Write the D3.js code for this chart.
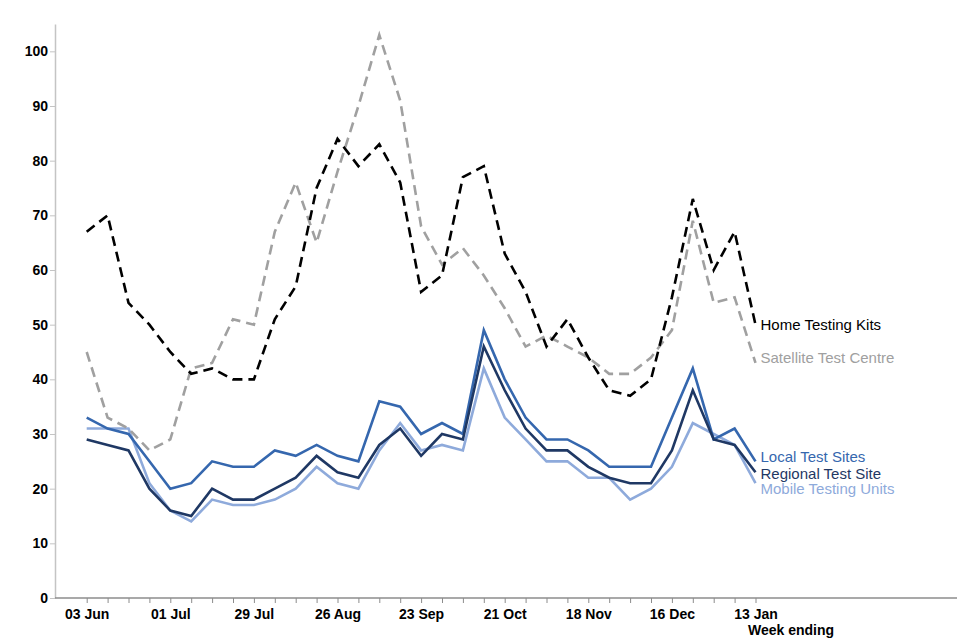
<!DOCTYPE html>
<html>
<head>
<meta charset="utf-8">
<script src="https://cdn.jsdelivr.net/npm/d3@7"></script>
<style>
  body { margin: 0; background: #fff; }
  text { font-family: "Liberation Sans", Arial, sans-serif; }
</style>
</head>
<body>
<script>
// Week ending dates
const weeks = [
  "2021-06-03","2021-06-10","2021-06-17","2021-06-24","2021-07-01","2021-07-08",
  "2021-07-15","2021-07-22","2021-07-29","2021-08-05","2021-08-12","2021-08-19",
  "2021-08-26","2021-09-02","2021-09-09","2021-09-16","2021-09-23","2021-09-30",
  "2021-10-07","2021-10-14","2021-10-21","2021-10-28","2021-11-04","2021-11-11",
  "2021-11-18","2021-11-25","2021-12-02","2021-12-09","2021-12-16","2021-12-23",
  "2021-12-30","2022-01-06","2022-01-13"
];
const tickLabels = ["03 Jun","01 Jul","29 Jul","26 Aug","23 Sep","21 Oct","18 Nov","16 Dec","13 Jan"];
const yTicks = [0,10,20,30,40,50,60,70,80,90,100];

// Series values
const homeKits  = [67,70,54,50,45,41,42,40,40,51,57,75,84,79,83,76,56,59,77,79,63,56,46,51,44,38,37,40,55,73,60,67,50];
const satellite = [45,33,31,27,29,42,43,51,50,67,76,65,78,90,103,91,68,61,64,59,53,46,48,46,44,41,41,44,49,69,54,55,43];
const localSites = [33,31,30,25,20,21,25,24,24,27,26,28,26,25,36,35,30,32,30,49,40,33,29,29,27,24,24,24,33,42,29,31,25];
const regional  = [29,28,27,20,16,15,20,18,18,20,22,26,23,22,28,31,26,30,29,46,38,31,27,27,24,22,21,21,27,38,29,28,23];
const mobile    = [31,31,31,21,16,14,18,17,17,18,20,24,21,20,27,32,27,28,27,42,33,29,25,25,22,22,18,20,24,32,30,28,21];

const series = [
  {name: 'Mobile Testing Units', values: mobile, color: '#8eaadb', dash: null, dy: 6},
  {name: 'Local Test Sites', values: localSites, color: '#3567ae', dash: null, dy: -5},
  {name: 'Regional Test Site', values: regional, color: '#1f3864', dash: null, dy: 1},
  {name: 'Satellite Test Centre', values: satellite, color: '#a0a0a0', dash: '10,6', dy: -5},
  {name: 'Home Testing Kits', values: homeKits, color: '#000000', dash: '10,6', dy: 0}
];

let width = 960,
    height = 640;

let margin = {top: 24, bottom: 42, left: 55, right: 3};

const parse = d3.timeParse('%Y-%m-%d');
const dates = weeks.map(parse);

let svg = d3.select('body')
  .append('svg')
    .attr('width', width)
    .attr('height', height);

// Scales
let xScale = d3.scaleTime()
  .domain([dates[0], dates[dates.length - 1]])
  .range([86.7, 755.5]);

let yScale = d3.scaleLinear()
  .domain([0, 105])
  .range([height - margin.bottom, margin.top]);

// Y axis
let yAxis = svg.append('g')
  .attr('transform', `translate(${margin.left},0)`)
  .call(d3.axisLeft(yScale).tickValues(yTicks).tickSize(5).tickPadding(2).tickSizeOuter(0));
yAxis.select('.domain').attr('stroke', '#c4c4c4').attr('stroke-width', 1.5);
yAxis.selectAll('.tick line').attr('stroke', '#c4c4c4');
yAxis.selectAll('.tick text')
  .attr('font-size', 14).attr('font-weight', 'bold').attr('fill', '#000')
  .style('font-family', '"Liberation Sans", Arial, sans-serif');

// X axis
const fmt = d3.timeFormat('%d %b');
let xAxis = svg.append('g')
  .attr('transform', `translate(0,${height - margin.bottom})`)
  .call(d3.axisBottom(xScale)
    .tickValues(dates)
    .tickSize(5)
    .tickPadding(6)
    .tickFormat(d => tickLabels.includes(fmt(d)) ? fmt(d) : ''));
xAxis.select('.domain').remove();
xAxis.append('line')
  .attr('x1', margin.left)
  .attr('x2', width - margin.right)
  .attr('stroke', '#8c8c8c')
  .attr('stroke-width', 1.5);
xAxis.selectAll('.tick line').attr('stroke', '#8c8c8c');
xAxis.selectAll('.tick text')
  .attr('font-size', 14).attr('font-weight', 'bold').attr('fill', '#000')
  .style('font-family', '"Liberation Sans", Arial, sans-serif');

// Axis title
svg.append('text')
  .attr('x', 748)
  .attr('y', 635)
  .attr('font-size', 14)
  .attr('font-weight', 'bold')
  .text('Week ending');

// Lines
let line = d3.line()
  .x((d, i) => xScale(dates[i]))
  .y(d => yScale(d));

svg.selectAll('path.series')
  .data(series)
  .enter()
  .append('path')
    .attr('class', 'series')
    .attr('d', d => line(d.values))
    .attr('fill', 'none')
    .attr('stroke', d => d.color)
    .attr('stroke-width', 2.6)
    .attr('stroke-linejoin', 'miter')
    .attr('stroke-dasharray', d => d.dash);

// Labels at line ends
svg.selectAll('text.label')
  .data(series)
  .enter()
  .append('text')
    .attr('class', 'label')
    .attr('x', xScale(dates[dates.length - 1]) + 5)
    .attr('y', d => yScale(d.values[d.values.length - 1]) + d.dy)
    .attr('dy', '0.35em')
    .attr('font-size', 15)
    .attr('fill', d => d.color)
    .text(d => d.name);
</script>
</body>
</html>
